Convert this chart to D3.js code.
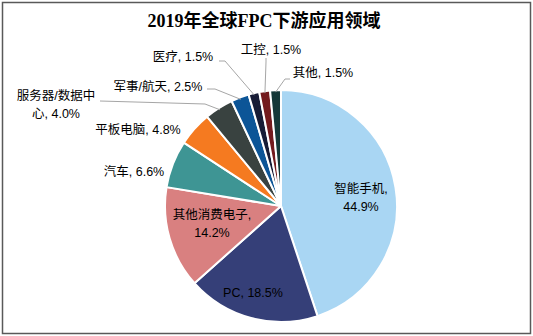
<!DOCTYPE html>
<html><head><meta charset="utf-8">
<script src="https://cdn.jsdelivr.net/npm/d3@7"></script>
<style>
html,body{margin:0;padding:0;background:#fff;}
svg{display:block;}
</style></head>
<body>
<svg id="chart" width="533" height="336"></svg>
<script>
// ---- data ----
const categories = ["智能手机","PC","其他消费电子","汽车","平板电脑","服务器/数据中心","军事/航天","医疗","工控","其他"];
const values = [44.9, 18.5, 14.2, 6.6, 4.8, 4.0, 2.5, 1.5, 1.5, 1.5];
const colors = ["#A9D6F3","#353F78","#D98080","#3E9594","#F57A20","#394240","#0C5597","#171C36","#731A1D","#153838"];
const title = "2019年全球FPC下游应用领域";

// ---- layout (label text lines, positions, leader bend points) ----
const labelLines = [
  ["智能手机,","44.9%"],
  ["PC, 18.5%"],
  ["其他消费电子,","14.2%"],
  ["汽车, 6.6%"],
  ["平板电脑, 4.8%"],
  ["服务器/数据中","心, 4.0%"],
  ["军事/航天, 2.5%"],
  ["医疗, 1.5%"],
  ["工控, 1.5%"],
  ["其他, 1.5%"]
];
const labelPos = [[361,189],[253,293],[212,215],[134,172],[138,130],[56,96],[158,87],[183,57],[271,50],[323,73]];
// leader: polyline from label side (points) to slice edge (computed)
const leaders = {
  5: [[100,101],[205,104]],
  6: [[207,89],[215,89]],
  7: [[219,61],[225,61]],
  8: [[266,58],[266,62]],
  9: [[290,79],[285,79]]
};

const W = 533, H = 336;
const cx = 281, cy = 206, R = 116;
const svg = d3.select("#chart");

// frame
svg.append("rect").attr("x",2.5).attr("y",2.5).attr("width",W-5).attr("height",H-5)
  .attr("fill","#fff").attr("stroke","#595959").attr("stroke-width",1.5);

// title
svg.append("text").attr("x",264).attr("y",27).attr("text-anchor","middle")
  .attr("font-family","'Liberation Serif','Noto Sans CJK SC',serif")
  .attr("font-weight","bold").attr("font-size",18).attr("fill","#000").text(title);

const pie = d3.pie().sort(null).value(d=>d)(values);
const arc = d3.arc().innerRadius(0).outerRadius(R);
const g = svg.append("g").attr("transform",`translate(${cx},${cy})`);
g.selectAll("path").data(pie).join("path")
  .attr("d",arc).attr("fill",(d,i)=>colors[i])
  .attr("stroke","#fff").attr("stroke-width",2).attr("stroke-linejoin","round");

// leaders
Object.keys(leaders).forEach(k=>{
  const i = +k, d = pie[i];
  const a = (d.startAngle+d.endAngle)/2;
  const end = [cx + (R-2)*Math.sin(a), cy - (R-2)*Math.cos(a)];
  const pts = leaders[k].concat([end]);
  svg.append("path").attr("d", d3.line()(pts))
    .attr("fill","none").attr("stroke","#A6A6A6").attr("stroke-width",1);
});

// labels
labelLines.forEach((lines,i)=>{
  const t = svg.append("text").attr("text-anchor","middle")
    .attr("font-family","'Liberation Sans','Noto Sans CJK SC',sans-serif")
    .attr("font-size",12.5).attr("fill","#000");
  lines.forEach((s,j)=>{
    t.append("tspan").attr("x",labelPos[i][0]).attr("y",labelPos[i][1]+j*18)
      .attr("dominant-baseline","central").text(s);
  });
});
</script>
</body></html>
